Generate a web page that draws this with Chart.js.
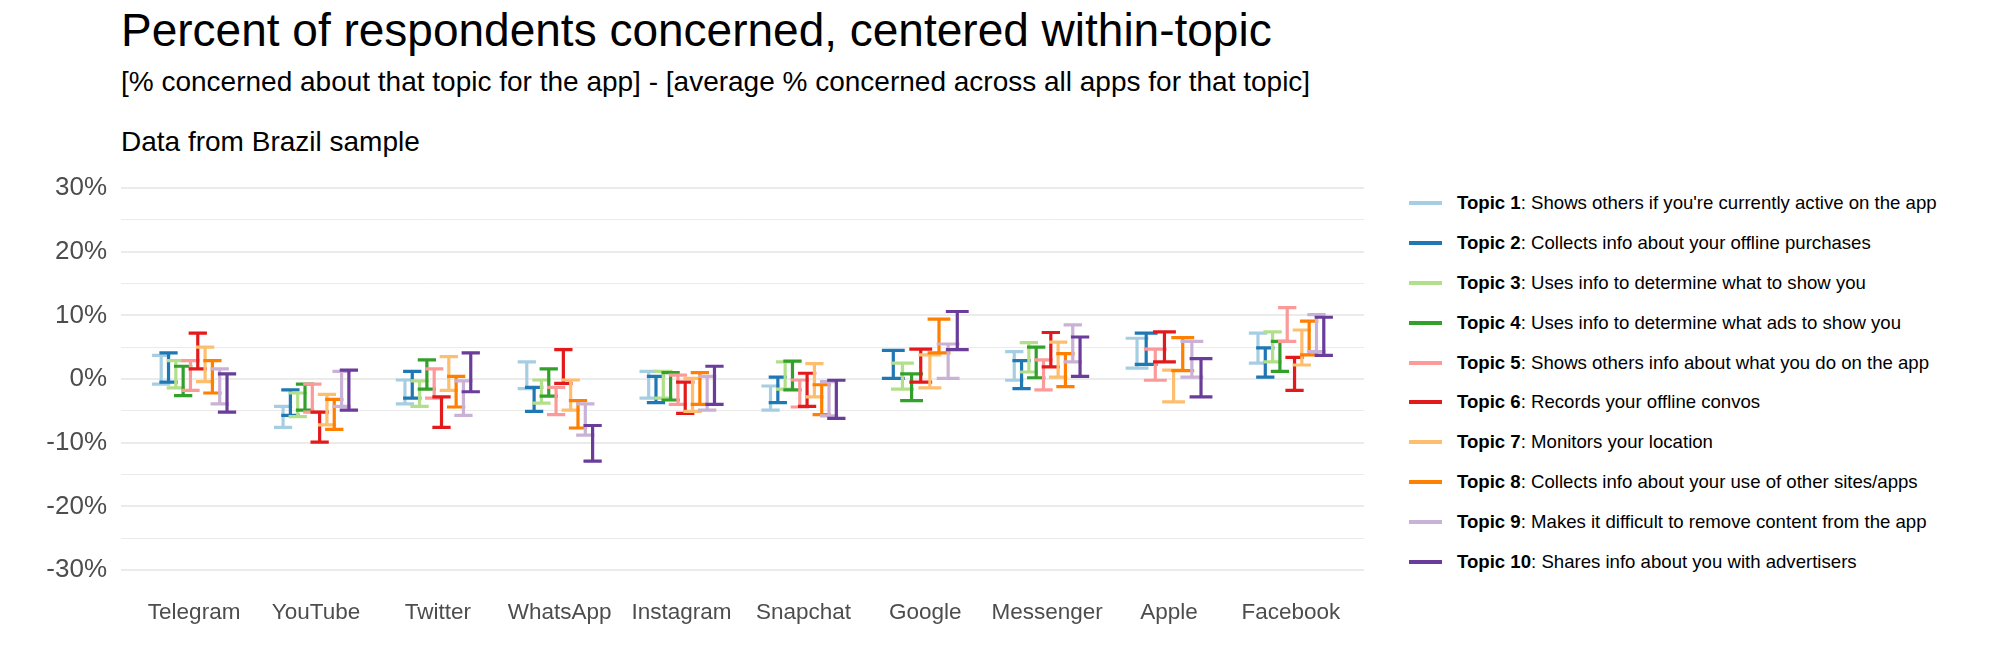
<!DOCTYPE html>
<html><head><meta charset="utf-8">
<script src="https://cdn.jsdelivr.net/npm/chart.js@4.4.1/dist/chart.umd.min.js"></script>
<style>
html,body{margin:0;padding:0;background:#fff;width:1999px;height:667px;overflow:hidden;font-family:"Liberation Sans",Arial,Helvetica,sans-serif;}
#wrap{position:relative;width:1999px;height:667px;}
#chart{position:absolute;left:0;top:0;}
.t{position:absolute;left:121px;white-space:nowrap;color:#000;}
#title{font-size:46px;line-height:46px;top:7px;}
#subtitle{font-size:28px;line-height:28px;top:68px;}
#caption{font-size:28px;line-height:28px;top:128px;}
#legend{position:absolute;left:1409px;top:183px;}
.item{height:39.9px;display:flex;align-items:center;white-space:nowrap;font-size:18.6px;color:#000;}
.key{display:inline-block;width:33px;height:4px;margin-right:15px;}
</style></head>
<body><div id="wrap">
<div id="title" class="t">Percent of respondents concerned, centered within-topic</div>
<div id="subtitle" class="t">[% concerned about that topic for the app] - [average % concerned across all apps for that topic]</div>
<div id="caption" class="t">Data from Brazil sample</div>
<canvas id="chart" width="1380" height="667"></canvas>
<div id="legend"></div>
</div>
<script>
const apps = ['Telegram','YouTube','Twitter','WhatsApp','Instagram','Snapchat','Google','Messenger','Apple','Facebook'];
const topicNames = ['Topic 1','Topic 2','Topic 3','Topic 4','Topic 5','Topic 6','Topic 7','Topic 8','Topic 9','Topic 10'];
const topicDescriptions = [
  "Shows others if you're currently active on the app",
  'Collects info about your offline purchases',
  'Uses info to determine what to show you',
  'Uses info to determine what ads to show you',
  'Shows others info about what you do on the app',
  'Records your offline convos',
  'Monitors your location',
  'Collects info about your use of other sites/apps',
  'Makes it difficult to remove content from the app',
  'Shares info about you with advertisers'
];
const topicColors = ['#A6CEE3','#1F78B4','#B2DF8A','#33A02C','#FB9A99','#E31A1C','#FDBF6F','#FF7F00','#CAB2D6','#6A3D9A'];

// lower / upper bounds (percentage points), order follows apps
const topic1Low   = [-0.8, -7.6, -3.9, -1.5, -3.0, -4.9, null, -0.2,  1.7,  2.5];
const topic1High  = [ 3.7, -4.3,  0.0,  2.7,  1.2, -1.1, null,  4.3,  6.4,  7.2];
const topic2Low   = [-0.5, -5.7, -3.0, -5.1, -3.7, -3.7,  0.1, -1.5,  2.3,  0.3];
const topic2High  = [ 4.1, -1.7,  1.2, -1.3,  0.4,  0.3,  4.5,  2.9,  7.2,  4.9];
const topic3Low   = [-1.4, -5.9, -4.3, -3.8, -3.0, -1.6, -1.6,  1.1, null,  2.7];
const topic3High  = [ 2.9, -2.2, -0.3,  0.0,  1.2,  2.7,  2.5,  5.7, null,  7.4];
const topic4Low   = [-2.6, -4.9, -1.6, -2.7, -3.3, -1.7, -3.4,  0.2, null,  1.2];
const topic4High  = [ 2.0, -0.8,  3.0,  1.6,  1.0,  2.8,  0.8,  5.0, null,  5.9];
const topic5Low   = [-1.8, -5.2, -3.0, -5.6, -4.0, -4.4, null, -1.7, -0.2,  5.9];
const topic5High  = [ 2.9, -0.8,  1.6, -1.3,  0.6,  0.0, null,  3.0,  4.7, 11.2];
const topic6Low   = [ 1.6, -9.9, -7.6, -0.7, -5.4, -4.3, -0.5,  1.9,  2.7, -1.8];
const topic6High  = [ 7.2, -5.2, -2.8,  4.6, -0.5,  0.9,  4.7,  7.3,  7.4,  3.4];
const topic7Low   = [-0.4, -7.2, -1.8, -4.9, -5.1, -2.8, -1.4,  0.3, -3.6,  2.2];
const topic7High  = [ 5.0, -2.4,  3.5,  0.0,  0.1,  2.4,  3.8,  5.8,  1.4,  7.7];
const topic8Low   = [-2.2, -7.9, -4.4, -7.7, -4.0, -5.6,  4.1, -1.2,  1.3,  3.8];
const topic8High  = [ 2.9, -3.2,  0.4, -3.4,  1.0, -0.9,  9.4,  4.0,  6.5,  9.1];
const topic9Low   = [-3.9, -4.3, -5.7, -8.8, -4.9, -5.8,  0.1,  2.7,  0.3,  4.3];
const topic9High  = [ 1.6,  1.2, -0.3, -3.9,  0.4, -0.4,  5.5,  8.5,  5.9, 10.1];
const topic10Low  = [-5.2, -4.9, -2.0,-12.9, -4.0, -6.2,  4.6,  0.4, -2.8,  3.7];
const topic10High = [ 0.8,  1.4,  4.1, -7.3,  2.0, -0.2, 10.6,  6.6,  3.2,  9.7];

const yTicks = [-30,-20,-10,0,10,20,30];

const lows  = [topic1Low,topic2Low,topic3Low,topic4Low,topic5Low,topic6Low,topic7Low,topic8Low,topic9Low,topic10Low];
const highs = [topic1High,topic2High,topic3High,topic4High,topic5High,topic6High,topic7High,topic8High,topic9High,topic10High];

// legend (HTML text)
const legendEl = document.getElementById('legend');
topicNames.forEach((n, i) => {
  const row = document.createElement('div');
  row.className = 'item';
  const key = document.createElement('span');
  key.className = 'key';
  key.style.background = topicColors[i];
  const txt = document.createElement('span');
  const b = document.createElement('b');
  b.textContent = n;
  txt.appendChild(b);
  txt.appendChild(document.createTextNode(': ' + topicDescriptions[i]));
  row.appendChild(key); row.appendChild(txt);
  legendEl.appendChild(row);
});

const CAP_FACTOR = 2.5;
const errorBars = {
  id: 'errorBars',
  afterDatasetsDraw(chart) {
    const ctx = chart.ctx;
    chart.data.datasets.forEach((ds, i) => {
      const meta = chart.getDatasetMeta(i);
      meta.data.forEach((el, j) => {
        if (ds.data[j] == null) return;
        const p = el.getProps(['x','y','base','width'], true);
        const top = Math.min(p.y, p.base), bot = Math.max(p.y, p.base);
        const h = p.width * CAP_FACTOR / 2;
        ctx.save();
        ctx.strokeStyle = ds.errColor;
        ctx.lineWidth = 3.2;
        ctx.lineCap = 'butt';
        ctx.beginPath();
        ctx.moveTo(p.x - h, top); ctx.lineTo(p.x + h, top);
        ctx.moveTo(p.x, top); ctx.lineTo(p.x, bot);
        ctx.moveTo(p.x - h, bot); ctx.lineTo(p.x + h, bot);
        ctx.stroke();
        ctx.restore();
      });
    });
  }
};

const FONT = '"Liberation Sans", Arial, Helvetica, sans-serif';
new Chart(document.getElementById('chart'), {
  type: 'bar',
  data: {
    labels: apps,
    datasets: topicNames.map((n, i) => ({
      label: n,
      data: apps.map((_, j) => lows[i][j] == null ? null : [lows[i][j], highs[i][j]]),
      backgroundColor: 'rgba(0,0,0,0)',
      borderWidth: 0,
      errColor: topicColors[i],
      skipNull: true,
      categoryPercentage: 0.6,
      barPercentage: 1.0
    }))
  },
  options: {
    responsive: false,
    animation: false,
    events: [],
    layout: { padding: { top: 188, right: 16, left: 0, bottom: 0 } },
    plugins: { legend: { display: false }, tooltip: { enabled: false }, title: { display: false } },
    scales: {
      x: {
        grid: { display: false },
        border: { display: false },
        ticks: { font: { family: FONT, size: 22.5 }, color: '#4D4D4D', padding: 21, maxRotation: 0, autoSkip: false },
        afterBuildTicks: s => { s._startValue = -0.6; s._valueRange = apps.length - 1 + 1.2; },
        afterFit: s => { s.height = 97; }
      },
      y: {
        min: yTicks[0], max: yTicks[yTicks.length - 1],
        grid: {
          color: '#EBEBEB',
          lineWidth: c => (c.tick && c.tick.value % 10 === 0) ? 2 : 1,
          drawTicks: false
        },
        border: { display: false },
        ticks: {
          stepSize: 5, autoSkip: false,
          font: { family: FONT, size: 26 }, color: '#4D4D4D', padding: 14,
          callback: v => yTicks.includes(v) ? v + '%' : ''
        },
        afterFit: s => { s.width = 121; }
      }
    }
  },
  plugins: [errorBars]
});
</script>
</body></html>
